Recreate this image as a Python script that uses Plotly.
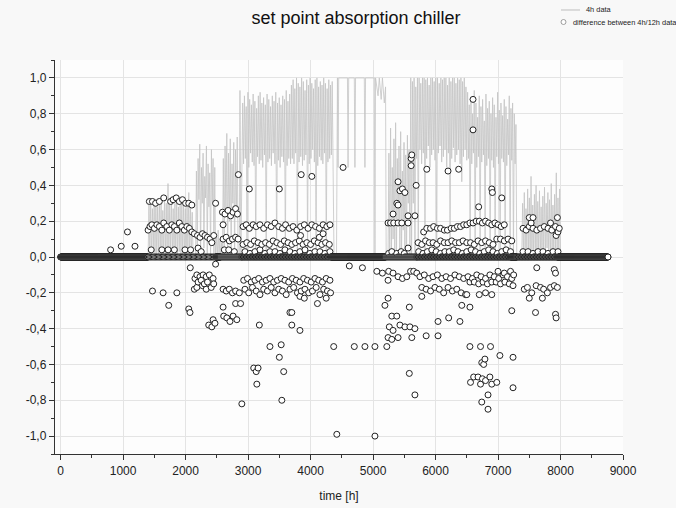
import plotly.graph_objects as go

# ---------------- data ----------------
title_text = "set point absorption chiller"
x_title = "time [h]"
series_names = ["4h data", "difference between 4h/12h data"]

x_tick_vals = [0, 1000, 2000, 3000, 4000, 5000, 6000, 7000, 8000, 9000]
x_tick_text = ["0", "1000", "2000", "3000", "4000", "5000", "6000", "7000", "8000", "9000"]
y_tick_vals = [-1.0, -0.8, -0.6, -0.4, -0.2, 0.0, 0.2, 0.4, 0.6, 0.8, 1.0]
y_tick_text = ["-1,0", "-0,8", "-0,6", "-0,4", "-0,2", "0,0", "0,2", "0,4", "0,6", "0,8", "1,0"]

# 4h data line: dense daily spikes (segment start, end, peaks, troughs)
seg_b = (1400, 2120)
peaks_b = [0.29, 0.31, 0.27, 0.30, 0.32, 0.28, 0.31, 0.30, 0.26, 0.33, 0.30, 0.41, 0.29,
           0.31, 0.27, 0.30, 0.32, 0.28, 0.30, 0.31, 0.29, 0.27, 0.30, 0.36, 0.28, 0.25]
troughs_b = [0.0, 0.0, 0.05, 0.0, 0.0, 0.0, 0.04, 0.0, 0.0, 0.0, 0.0, 0.0, 0.05,
             0.0, 0.0, 0.0, 0.0, 0.03, 0.0, 0.0, 0.0, 0.0, 0.0, 0.0, 0.0, 0.0]
seg_d = (2160, 2480)
peaks_d = [0.48, 0.55, 0.63, 0.50, 0.58, 0.45, 0.62, 0.52, 0.47, 0.60, 0.55, 0.50]
troughs_d = [0.0, 0.32, 0.0, 0.30, 0.05, 0.33, 0.0, 0.28, 0.0, 0.31, 0.0, 0.0]
seg_e = (2480, 2590)
peaks_e = [0.12, 0.15, 0.10, 0.08]
troughs_e = [0.0, 0.0, 0.0, 0.0]
seg_f = (2590, 2840)
peaks_f = [0.55, 0.62, 0.69, 0.58, 0.66, 0.52, 0.64, 0.60, 0.67]
troughs_f = [0.0, 0.25, 0.0, 0.20, 0.0, 0.30, 0.0, 0.22, 0.0]
seg_h = (2900, 3680)
peaks_h = [0.86, 0.90, 0.84, 0.92, 0.88, 0.85, 0.91, 0.87, 0.83, 0.90, 0.92, 0.86, 0.89, 0.85,
           0.91, 0.88, 0.84, 0.90, 0.87, 0.92, 0.86, 0.89, 0.85, 0.90, 0.88, 0.93, 0.87, 0.91]
troughs_h = [0.52, 0.55, 0.0, 0.50, 0.58, 0.53, 0.51, 0.0, 0.56, 0.52, 0.54, 0.50, 0.57, 0.0,
             0.53, 0.55, 0.51, 0.58, 0.52, 0.0, 0.54, 0.50, 0.56, 0.53, 0.0, 0.51, 0.55, 0.52]
seg_i = (3680, 4360)
peaks_i = [0.96, 0.99, 0.94, 1.0, 0.97, 0.95, 1.0, 0.98, 0.93, 0.99, 0.96, 1.0, 0.97,
           0.94, 0.99, 1.0, 0.95, 0.98, 0.96, 1.0, 0.97, 0.94, 0.99, 0.96, 0.98]
troughs_i = [0.55, 0.52, 0.58, 0.0, 0.53, 0.56, 0.51, 0.54, 0.57, 0.0, 0.52, 0.55, 0.60,
             0.53, 0.0, 0.51, 0.56, 0.54, 0.52, 0.58, 0.0, 0.53, 0.55, 0.57, 0.50]
seg_l = (5240, 5590)
peaks_l = [0.58, 0.72, 0.50, 0.66, 0.75, 0.55, 0.62, 0.70, 0.48, 0.64, 0.57, 0.68, 0.60]
troughs_l = [0.0, 0.0, 0.10, 0.0, 0.0, 0.20, 0.0, 0.0, 0.15, 0.0, 0.0, 0.30, 0.0]
seg_m = (5590, 6500)
peaks_m = [1.0, 0.98, 1.0, 0.95, 1.0, 1.0, 0.97, 1.0, 1.0, 0.99, 1.0, 0.96, 1.0, 1.0, 0.98, 1.0, 1.0,
           0.97, 1.0, 0.99, 1.0, 1.0, 0.96, 1.0, 0.98, 1.0, 1.0, 0.97, 1.0, 0.99, 1.0, 0.98, 1.0, 0.95]
troughs_m = [0.0, 0.30, 0.0, 0.55, 0.0, 0.60, 0.52, 0.58, 0.0, 0.55, 0.62, 0.50, 0.57, 0.60, 0.54, 0.0, 0.58,
             0.62, 0.53, 0.56, 0.60, 0.50, 0.58, 0.0, 0.55, 0.61, 0.53, 0.57, 0.60, 0.52, 0.42, 0.56, 0.60, 0.54]
seg_n = (6500, 7300)
peaks_n = [0.92, 0.85, 0.88, 0.80, 0.93, 0.86, 0.78, 0.90, 0.84, 0.88, 0.76, 0.91, 0.83, 0.87, 0.80,
           0.89, 0.85, 0.78, 0.92, 0.82, 0.86, 0.79, 0.88, 0.84, 0.77, 0.90, 0.83, 0.86, 0.80, 0.74]
troughs_n = [0.55, 0.0, 0.52, 0.58, 0.0, 0.50, 0.56, 0.0, 0.53, 0.57, 0.0, 0.51, 0.55, 0.0, 0.54,
             0.50, 0.0, 0.56, 0.52, 0.0, 0.55, 0.53, 0.0, 0.51, 0.57, 0.0, 0.54, 0.0, 0.52, 0.0]
seg_p = (7380, 8000)
peaks_p = [0.30, 0.36, 0.27, 0.38, 0.33, 0.45, 0.29, 0.35, 0.40, 0.31, 0.37, 0.28,
           0.34, 0.39, 0.30, 0.36, 0.32, 0.41, 0.29, 0.35, 0.47, 0.33, 0.38]
troughs_p = [0.0, 0.0, 0.05, 0.0, 0.0, 0.0, 0.0, 0.04, 0.0, 0.0, 0.0, 0.0,
             0.0, 0.0, 0.05, 0.0, 0.0, 0.0, 0.0, 0.0, 0.0, 0.0, 0.0]

# explicit 4h-data points (quiet periods, single spikes, plateau at 1.0)
line_pts_h = [0, 1400, 2120, 2160, 2860, 2870, 2885, 4375, 4415,
              4430, 4440, 4450, 4590, 4600, 4610, 4700, 4710, 4720, 4860, 4870, 4880,
              5020, 5030, 5040, 5080, 5100, 5130, 5150, 5180, 5200, 5210, 5240,
              7300, 7380, 8000, 8760]
line_pts_v = [0.0, 0.0, 0.0, 0.0, 0.0, 0.93, 0.0, 0.0, 0.0,
              1.0, 0.5, 1.0, 1.0, 0.5, 1.0, 1.0, 0.5, 1.0, 1.0, 0.5, 1.0,
              1.0, 0.0, 1.0, 0.9, 1.0, 0.88, 1.0, 0.86, 0.95, 0.0, 0.0,
              0.0, 0.0, 0.0, 0.0]

# difference 4h/12h: runs of exact zero (start, end, sampling step in h)
zero_run_start = [0, 1400, 2480, 2560, 2900, 4330, 5200, 5700, 7200, 7300, 7950]
zero_run_end = [1400, 2480, 2560, 2900, 4330, 5200, 5700, 7200, 7300, 7950, 8760]
zero_run_step = [4, 20, 4, 16, 12, 4, 16, 12, 4, 12, 4]

# difference 4h/12h: non-zero circles (hour, value)
diff_h = [
    800, 970, 1070, 1190,
    1420, 1470, 1520, 1580, 1650, 1760, 1800, 1850, 1900, 1950, 2000, 2050, 2100,
    1400, 1430, 1460, 1500, 1540, 1580, 1620, 1650, 1700, 1740, 1780, 1820, 1860, 1900, 1940, 1980, 2020, 2060, 2100, 2140,
    1450, 1620, 1720, 1820, 1990, 2080,
    2075, 2190, 2230, 2270, 2310, 2350, 2390, 2200, 2250, 2420, 2450, 2480,
    2180, 2230, 2280, 2330, 2380, 2440, 2150, 2200, 2250, 2300, 2350, 2180, 2270, 2330, 2410, 2450,
    2140, 1470, 1640, 1860, 1730, 2050, 2070, 2370, 2420, 2470, 2440, 2480,
    2590, 2630, 2680, 2720, 2760, 2800, 2830, 2600, 2600, 2650, 2700, 2750, 2800, 2840, 2620, 2690, 2780, 2845,
    2600, 2650, 2700, 2750, 2800, 2860, 2600, 2610, 2660, 2710, 2760, 2820, 2800, 2880, 2900,
    2920, 2970, 3020, 3080, 3130, 3190, 3250, 3310, 3370, 3430, 3490, 3550, 3600, 3660, 3720, 3780, 3840,
    3900, 3960, 4020, 4080, 4140, 4200, 4260, 4310,
    2920, 2980, 3040, 3100, 3160, 3220, 3280, 3340, 3400, 3460, 3520, 3580, 3640, 3700, 3760, 3820, 3880,
    3940, 4000, 4060, 4120, 4180, 4240, 4300,
    2950, 3030, 3110, 3190, 3270, 3350, 3430, 3510, 3590, 3670, 3750, 3830, 3910, 3990, 4070, 4150, 4230, 4310,
    3020, 3500, 3850, 4020, 4520, 3840, 4140, 4200,
    2930, 2990, 3050, 3110, 3170, 3230, 3290, 3350, 3410, 3470, 3530, 3590, 3650, 3710, 3770, 3830, 3890,
    3950, 4010, 4070, 4130, 4190, 4250, 4310,
    2950, 3010, 3070, 3130, 3190, 3250, 3310, 3370, 3430, 3490, 3550, 3610, 3670, 3730, 3790, 3850, 3910,
    3970, 4030, 4090, 4150, 4210, 4270, 4320,
    3830, 3900, 4110, 4250, 3670, 3700, 3180, 3700, 3830, 3350, 3530, 3500, 3090, 3130, 3160, 3570, 3140, 3540,
    4370, 4420, 4700, 4870, 5030, 5220, 5030, 4620, 4830,
    5060, 5150, 5250, 5320, 5240, 5240, 5190, 5300, 5380,
    5260, 5320, 5430, 5510, 5590, 5670, 5620, 5400, 5300, 5240,
    5400, 5470, 5540, 5600, 5650, 5700, 5580, 5580, 5670, 5780, 5850, 6040, 6040, 6210, 6390,
    5400, 5430, 5470, 5510, 5380, 5400, 5320, 5240, 5280, 5330, 5400, 5460, 5560, 5560, 5670, 5690,
    5610, 5610, 5620, 5560, 5250, 5300, 5380, 5450, 5500,
    5860, 6200, 6370, 6600, 6600, 6900, 6910, 7060, 6690,
    5810, 5860, 5920, 5970, 6030, 6080, 6140, 6190, 6250, 6300, 6350, 6400, 6450, 6500, 6550, 6600,
    6650, 6700, 6750, 6800, 6850, 6900, 6950, 7000, 7050, 7100,
    5720, 5780, 5840, 5900, 5960, 6020, 6080, 6140, 6200, 6260, 6320, 6380, 6440, 6500, 6560, 6620,
    6680, 6740, 6800, 6860, 6920, 6980, 7040, 7100, 7160, 7220,
    5730, 5800, 5870, 5940, 6010, 6080, 6150, 6220, 6290, 6360, 6430, 6500, 6570, 6640, 6710, 6780,
    6850, 6920, 6990, 7060, 7130, 7200,
    5750, 5820, 5890, 5960, 6030, 6100, 6170, 6240, 6310, 6380, 6450, 6520, 6590, 6660, 6730, 6800,
    6870, 6940, 7010, 7080, 7150, 7220,
    5780, 5850, 5920, 5990, 6060, 6130, 6200, 6270, 6340, 6410, 6480, 6700, 6800, 6900,
    6550, 6620, 6690, 6760, 6830, 6900, 6970, 7040, 7110, 7180, 7240,
    7000, 7100, 7200, 7250, 6420, 6550, 6500, 7220,
    6550, 6720, 6880, 7030, 7240, 6790, 6740, 6770,
    6560, 6610, 6680, 6720, 6750, 6800, 6870, 6900, 6980, 7240, 6840, 6740, 6840,
    7400, 7450, 7500, 7560, 7620, 7680, 7740, 7800, 7860, 7920, 7980,
    7500, 7560, 7530, 7840, 7950, 7930, 7960,
    7400, 7480, 7560, 7640, 7720, 7800, 7880, 7960,
    7620, 7900, 7920,
    7420, 7470, 7540, 7610, 7680, 7730, 7790, 7840, 7900, 7950,
    7500, 7710, 7600, 7920, 7930,
]
diff_v = [
    0.04, 0.06, 0.14, 0.06,
    0.31, 0.31, 0.30, 0.31, 0.33, 0.31, 0.32, 0.33, 0.31, 0.32, 0.30, 0.30, 0.29,
    0.15, 0.17, 0.18, 0.16, 0.18, 0.17, 0.15, 0.19, 0.17, 0.15, 0.18, 0.17, 0.15, 0.19, 0.17, 0.15, 0.17, 0.16, 0.14, 0.13,
    0.04, 0.04, 0.04, 0.04, 0.04, 0.04,
    -0.06, 0.12, 0.11, 0.13, 0.12, 0.11, 0.10, 0.05, 0.03, 0.08, 0.12, 0.30,
    -0.10, -0.11, -0.10, -0.11, -0.10, -0.12, -0.12, -0.14, -0.13, -0.15, -0.14, -0.17, -0.16, -0.18, -0.17, -0.15,
    -0.18, -0.19, -0.20, -0.20, -0.27, -0.29, -0.31, -0.38, -0.39, -0.37, -0.35, -0.04,
    0.25, 0.24, 0.26, 0.23, 0.25, 0.27, 0.24, 0.18, 0.10, 0.11, 0.09, 0.10, 0.11, 0.10, 0.04, 0.04, 0.03, 0.46,
    -0.18, -0.19, -0.18, -0.20, -0.19, -0.20, -0.28, -0.33, -0.34, -0.36, -0.33, -0.35, -0.26, -0.26, -0.82,
    0.17, 0.18, 0.16, 0.18, 0.17, 0.18, 0.16, 0.18, 0.17, 0.19, 0.17, 0.16, 0.18, 0.16, 0.17, 0.15, 0.17,
    0.18, 0.16, 0.18, 0.17, 0.16, 0.18, 0.17, 0.18,
    0.07, 0.08, 0.07, 0.09, 0.08, 0.07, 0.08, 0.07, 0.09, 0.08, 0.07, 0.09, 0.08, 0.07, 0.08, 0.09, 0.07,
    0.08, 0.07, 0.09, 0.08, 0.07, 0.08, 0.07,
    0.03, 0.02, 0.03, 0.04, 0.02, 0.03, 0.03, 0.02, 0.04, 0.03, 0.02, 0.03, 0.04, 0.02, 0.03, 0.03, 0.02, 0.03,
    0.38, 0.38, 0.46, 0.45, 0.50, 0.12, 0.11, 0.13,
    -0.13, -0.12, -0.14, -0.13, -0.12, -0.14, -0.13, -0.12, -0.14, -0.13, -0.12, -0.13, -0.14, -0.12, -0.13, -0.14, -0.12,
    -0.13, -0.14, -0.12, -0.13, -0.14, -0.12, -0.13,
    -0.18, -0.20, -0.17, -0.19, -0.21, -0.18, -0.19, -0.17, -0.20, -0.18, -0.19, -0.21, -0.18, -0.17, -0.20, -0.19, -0.18,
    -0.20, -0.19, -0.17, -0.21, -0.18, -0.19, -0.20,
    -0.22, -0.23, -0.26, -0.23, -0.31, -0.31, -0.38, -0.38, -0.41, -0.50, -0.49, -0.56, -0.62, -0.64, -0.62, -0.64, -0.71, -0.80,
    -0.50, -0.99, -0.50, -0.50, -0.50, -0.50, -1.00, -0.05, -0.06,
    -0.08, -0.09, -0.08, -0.09, -0.13, -0.23, -0.27, -0.33, -0.33,
    -0.39, -0.41, -0.38, -0.39, -0.39, -0.40, -0.45, -0.45, -0.46, -0.45,
    -0.11, -0.12, -0.11, -0.08, -0.08, -0.09, -0.28, -0.65, -0.77, -0.22, -0.44, -0.36, -0.44, -0.34, -0.36,
    0.42, 0.37, 0.38, 0.36, 0.30, 0.29, 0.24, 0.19, 0.19, 0.19, 0.19, 0.19, 0.19, 0.23, 0.23, 0.40,
    0.51, 0.55, 0.57, 0.05, 0.02, 0.03, 0.02, 0.03, 0.02,
    0.49, 0.48, 0.49, 0.88, 0.71, 0.38, 0.36, 0.33, 0.28,
    0.14, 0.16, 0.16, 0.17, 0.16, 0.16, 0.15, 0.15, 0.16, 0.16, 0.17, 0.17, 0.18, 0.18, 0.19, 0.19,
    0.20, 0.20, 0.19, 0.20, 0.19, 0.18, 0.19, 0.18, 0.17, 0.18,
    0.08, 0.07, 0.09, 0.08, 0.08, 0.07, 0.09, 0.08, 0.08, 0.09, 0.08, 0.08, 0.09, 0.08, 0.08, 0.07,
    0.09, 0.08, 0.09, 0.08, 0.07, 0.10, 0.10, 0.09, 0.10, 0.09,
    0.03, 0.02, 0.03, 0.04, 0.03, 0.02, 0.03, 0.03, 0.04, 0.03, 0.02, 0.03, 0.04, 0.03, 0.02, 0.03,
    0.04, 0.03, 0.02, 0.03, 0.04, 0.03,
    -0.11, -0.10, -0.12, -0.11, -0.10, -0.12, -0.11, -0.12, -0.10, -0.11, -0.12, -0.11, -0.12, -0.10, -0.11, -0.12,
    -0.10, -0.11, -0.12, -0.10, -0.11, -0.12,
    -0.17, -0.18, -0.19, -0.17, -0.18, -0.20, -0.17, -0.19, -0.18, -0.20, -0.21, -0.21, -0.20, -0.21,
    -0.14, -0.14, -0.15, -0.14, -0.15, -0.14, -0.14, -0.15, -0.14, -0.15, -0.16,
    -0.08, -0.09, -0.08, -0.10, -0.27, -0.28, -0.21, -0.30,
    -0.50, -0.50, -0.50, -0.55, -0.56, -0.57, -0.59, -0.60,
    -0.70, -0.67, -0.67, -0.71, -0.68, -0.69, -0.67, -0.71, -0.70, -0.73, -0.77, -0.81, -0.85,
    0.16, 0.15, 0.17, 0.16, 0.15, 0.16, 0.17, 0.16, 0.15, 0.17, 0.16,
    0.22, 0.22, 0.19, 0.19, 0.22, 0.12, 0.14,
    0.03, 0.03, 0.02, 0.03, 0.03, 0.02, 0.03, 0.03,
    -0.06, -0.07, -0.09,
    -0.18, -0.17, -0.20, -0.16, -0.17, -0.18, -0.20, -0.17, -0.16, -0.17,
    -0.23, -0.23, -0.31, -0.32, -0.34,
]

# ---------------- build traces ----------------
def spikes(seg, peaks, troughs):
    s, e = seg
    n = len(peaks)
    w = (e - s) / n
    pts = []
    for i in range(n):
        pts.append((s + (i + 0.5) * w, peaks[i]))
        pts.append((s + (i + 1.0) * w, troughs[i]))
    return pts

line_points = list(zip(line_pts_h, line_pts_v))
for seg, pk, tr in [(seg_b, peaks_b, troughs_b), (seg_d, peaks_d, troughs_d), (seg_e, peaks_e, troughs_e),
                    (seg_f, peaks_f, troughs_f), (seg_h, peaks_h, troughs_h), (seg_i, peaks_i, troughs_i),
                    (seg_l, peaks_l, troughs_l), (seg_m, peaks_m, troughs_m), (seg_n, peaks_n, troughs_n),
                    (seg_p, peaks_p, troughs_p)]:
    line_points += spikes(seg, pk, tr)
line_points.sort(key=lambda p: p[0])
line_x = [p[0] for p in line_points]
line_y = [p[1] for p in line_points]

diff_points = list(zip(diff_h, diff_v))
for s, e, st in zip(zero_run_start, zero_run_end, zero_run_step):
    h = s
    while h < e:
        diff_points.append((h, 0.0))
        h += st
diff_points.append((8760, 0.0))
diff_points.sort(key=lambda p: p[0])
diff_x = [p[0] for p in diff_points]
diff_y = [p[1] for p in diff_points]

FONT = "Liberation Sans, Arial, Helvetica, sans-serif"
L, R, T, B = 55, 53, 60, 54
W, H = 676, 508
PW, PH = W - L - R, H - T - B


def px_x(px):
    return (px - L) / PW


def px_y(py):
    return (H - B - py) / PH


fig = go.Figure()
fig.add_trace(go.Scatter(
    x=line_x, y=line_y, mode="lines", name=series_names[0], showlegend=False,
    line=dict(color="#c4c4c4", width=0.8),
))
fig.add_trace(go.Scatter(
    x=diff_x, y=diff_y, mode="markers", name=series_names[1], showlegend=False,
    marker=dict(symbol="circle", size=6, color="white", line=dict(color="#222222", width=1)),
))

# hand-drawn legend (Origin style: text follows each symbol)
row1_py, row2_py = 10, 22
shapes = [
    dict(type="line", xref="paper", yref="paper", x0=px_x(561), x1=px_x(580),
         y0=px_y(row1_py), y1=px_y(row1_py), line=dict(color="#bdbdbd", width=1)),
    dict(type="circle", xref="paper", yref="paper", x0=px_x(561), x1=px_x(566),
         y0=px_y(row2_py + 2.5), y1=px_y(row2_py - 2.5), line=dict(color="#888888", width=0.8),
         fillcolor="white"),
]
annotations = [
    dict(text=series_names[0], xref="paper", yref="paper", x=px_x(584), y=px_y(row1_py),
         xanchor="left", yanchor="middle", showarrow=False, font=dict(size=7.4, color="#222222")),
    dict(text=series_names[1], xref="paper", yref="paper", x=px_x(571), y=px_y(row2_py),
         xanchor="left", yanchor="middle", showarrow=False, font=dict(size=7.4, color="#222222")),
]

fig.update_layout(
    width=W, height=H,
    margin=dict(l=L, r=R, t=T, b=B, autoexpand=False),
    paper_bgcolor="#f8f8f8",
    plot_bgcolor="#fdfdfd",
    font=dict(family=FONT, color="#222222", size=12),
    title=dict(text=title_text, x=0.53, xref="paper", xanchor="center",
               y=1 - 18 / H, yanchor="middle", font=dict(size=18, color="#111111")),
    showlegend=False,
    shapes=shapes,
    annotations=annotations,
    xaxis=dict(
        range=[-90, 9000], tickmode="array", tickvals=x_tick_vals, ticktext=x_tick_text,
        ticks="outside", ticklen=5, tickwidth=1, tickcolor="#333333",
        showline=True, linecolor="#333333", linewidth=1.2, mirror=False,
        showgrid=True, gridcolor="#e4e4e4", gridwidth=1, zeroline=False,
        minor=dict(tickmode="linear", tick0=0, dtick=500, ticks="outside", ticklen=3,
                   tickcolor="#333333", showgrid=False),
        title=dict(text=x_title, font=dict(size=12), standoff=15),
        tickfont=dict(size=12),
    ),
    yaxis=dict(
        range=[-1.1, 1.1], tickmode="array", tickvals=y_tick_vals, ticktext=y_tick_text,
        ticks="outside", ticklen=5, tickwidth=1, tickcolor="#333333",
        showline=True, linecolor="#333333", linewidth=1.2, mirror=False,
        showgrid=True, gridcolor="#e4e4e4", gridwidth=1, zeroline=False,
        minor=dict(tickmode="linear", tick0=0, dtick=0.1, ticks="outside", ticklen=3,
                   tickcolor="#333333", showgrid=False),
        tickfont=dict(size=12),
    ),
)

fig.write_html(
    "out.html",
    config={"displayModeBar": False, "staticPlot": True},
    post_script="document.body.style.margin='0';document.body.style.padding='0';"
                "document.body.style.overflow='hidden';",
)
